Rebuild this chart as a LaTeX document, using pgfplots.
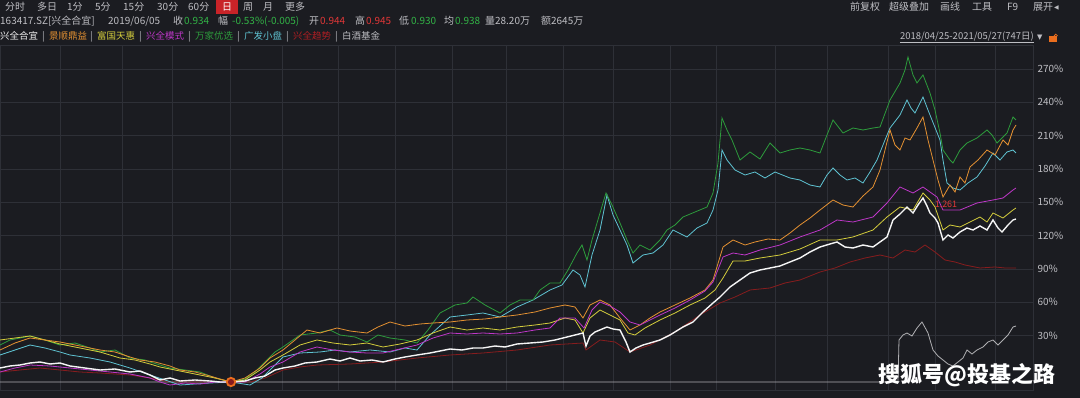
\documentclass[border=0pt]{standalone}
\usepackage{fontspec}
\setmainfont{Noto Sans CJK SC}
\newfontfamily\dejavu{DejaVu Sans}
\usepackage{pgfplots}
\pgfplotsset{compat=1.18}
\definecolor{bgc}{RGB}{27,28,33}
\definecolor{gridc}{RGB}{46,48,55}
\definecolor{labelc}{RGB}{190,190,195}
\definecolor{greenT}{RGB}{50,180,70}
\definecolor{redT}{RGB}{225,55,55}
\definecolor{redbox}{RGB}{200,35,40}
\definecolor{cW}{RGB}{245,245,245}
\definecolor{cO}{RGB}{228,145,50}
\definecolor{cY}{RGB}{212,205,60}
\definecolor{cM}{RGB}{190,55,200}
\definecolor{cG}{RGB}{45,155,60}
\definecolor{cC}{RGB}{95,195,210}
\definecolor{cR}{RGB}{135,28,30}
\definecolor{cRT}{RGB}{175,30,35}
\definecolor{cGr}{RGB}{175,175,178}
\definecolor{ringO}{RGB}{235,110,30}
\newcommand\fs{\fontsize{10}{12}\selectfont}
\newcommand\fl{\fontsize{9.5}{12}\selectfont}
\newcommand\tx[4][labelc]{\node[anchor=base west,inner sep=0pt,text=#1,font=\fs] at (#2bp,#3bp) {#4};}
\newcommand\tl[4][labelc]{\node[anchor=base west,inner sep=0pt,text=#1,font=\fl] at (#2bp,#3bp) {#4};}
\begin{document}
\begin{tikzpicture}
\fill[bgc] (0,0) rectangle (1080bp,398bp);
% toolbar
\tx{5}{387}{分时} \tx{37}{387}{多日} \tx{67}{387}{1分} \tx{95}{387}{5分} \tx{123}{387}{15分} \tx{157}{387}{30分} \tx{188}{387}{60分}
\fill[redbox] (216bp,384bp) rectangle (238bp,398bp);
\tx[white]{222}{387}{日}
\tx{243}{387}{周} \tx{263}{387}{月} \tx{285}{387}{更多}
\tx{850}{387}{前复权} \tx{889}{387}{超级叠加} \tx{940}{387}{画线} \tx{972}{387}{工具} \tx{1007}{387}{F9} \tx{1033}{387}{展开}
\node[anchor=base west,inner sep=0pt,text=labelc,font=\fontsize{6}{7}\selectfont\dejavu] at (1054bp,388bp) {◀};
% info row
\tx{0}{373}{163417.SZ[兴全合宜]} \tx{108}{373}{2019/06/05}
\tx{173}{373}{收} \tx[greenT]{184}{373}{0.934}
\tx{218}{373}{幅} \tx[greenT]{232}{373}{-0.53\%(-0.005)}
\tx{309}{373}{开} \tx[redT]{320}{373}{0.944}
\tx{355}{373}{高} \tx[redT]{366}{373}{0.945}
\tx{399}{373}{低} \tx[greenT]{411}{373}{0.930}
\tx{444}{373}{均} \tx[greenT]{455}{373}{0.938}
\tx{485}{373}{量28.20万} \tx{541}{373}{额2645万}
% legend row
\tl[cW]{0}{358}{兴全合宜} \tl{42}{358}{|}
\tl[cO]{49}{358}{景顺鼎益} \tl{90}{358}{|}
\tl[cY]{97}{358}{富国天惠} \tl{139}{358}{|}
\tl[cM]{146}{358}{兴全模式} \tl{188}{358}{|}
\tl[cG]{195}{358}{万家优选} \tl{237}{358}{|}
\tl[cC]{244}{358}{广发小盘} \tl{286}{358}{|}
\tl[cRT]{293}{358}{兴全趋势} \tl{335}{358}{|}
\tl[labelc]{342}{358}{白酒基金}
\node[anchor=base east,inner sep=0pt,text=labelc,font=\fontsize{9.5}{11}\selectfont] (dr) at (1034bp,358bp) {2018/04/25-2021/05/27(747日)};
\draw[labelc,line width=0.5pt] ([yshift=-1.8bp]dr.base west) -- ([yshift=-1.8bp]dr.base east);
\node[anchor=base west,inner sep=0pt,text=labelc,font=\fontsize{7}{8}\selectfont\dejavu] at (1037bp,358bp) {▼};
\fill[ringO] (1049bp,356bp) rectangle (1057bp,362bp);
\draw[ringO,line width=0.8pt] (1054bp,362bp) arc (180:0:1.8bp);
\begin{axis}[
  at={(0bp,8bp)}, anchor=south west,
  width=1033bp, height=345bp, scale only axis,
  xmin=0, xmax=1033, ymin=-18.9, ymax=291.6,
  axis line style={draw=gridc},
  xtick={60,122,172,230,282,338,395,452,506,563,613,670,716,775,827,888,935,995},
  xticklabels={},
  ytick={30,60,90,120,150,180,210,240,270},
  yticklabel pos=right,
  yticklabel={\pgfmathprintnumber{\tick}\%},
  /pgf/number format/assume math mode=true,
  yticklabel style={font=\fontsize{10}{12}\selectfont, text=labelc, xshift=1bp},
  major tick length=0pt,
  grid=major, grid style={gridc, line width=0.6pt},
  clip=true,
]
% 白酒基金
\addplot[cGr, line width=0.8pt] coordinates {(0,-11.7)(898,-11.7)(899,26.1)(903,30.6)(907,32.4)(912,29.7)(917,36.9)(922,42.3)(928,32.4)(933,17.1)(938,11.7)(943,8.1)(948,4.5)(953,2.7)(958,6.3)(963,9.9)(967,17.1)(972,13.5)(977,17.1)(983,19.8)(988,24.3)(993,26.1)(998,21.6)(1003,26.1)(1008,30.6)(1013,37.8)(1016,38.7)};
% 兴全趋势
\addplot[cR, line width=0.8pt] coordinates {(0,-2.7)(20,-0.9)(40,0.9)(60,-0.9)(80,-2.7)(100,-3.6)(130,-5.4)(150,-8.1)(170,-11.7)(200,-11.7)(231,-11.7)(250,-11.7)(265,-8.1)(283,-0.9)(300,1.8)(317,3.6)(350,4.5)(383,6.3)(417,9.9)(450,12.6)(483,14.4)(517,17.1)(550,21.6)(583,23.4)(586,17.1)(600,26.1)(615,24.3)(630,15.3)(650,21.6)(675,33.3)(700,48.6)(720,59.4)(735,64.8)(750,71.1)(770,72.9)(785,77.4)(800,80.1)(820,87.3)(835,90.9)(850,96.3)(865,99.9)(880,102.6)(893,99.9)(905,107.1)(915,105.3)(925,111.6)(935,105.3)(945,98.1)(955,96.3)(965,93.6)(980,90.9)(995,91.8)(1005,90.9)(1016,90.9)};
% 广发小盘
\addplot[cC, line width=0.8pt] coordinates {(0,12.6)(15,17.1)(30,21.6)(45,18.9)(60,15.3)(70,12.6)(90,9.9)(110,6.3)(130,0.9)(150,-5.4)(165,-9.9)(180,-14.4)(195,-13.5)(210,-12.6)(231,-11.7)(250,-14.4)(262,-8.1)(272,0.9)(283,10.8)(300,14.4)(320,15.3)(335,17.1)(350,15.3)(370,17.1)(390,15.3)(405,18.9)(417,17.1)(430,30.6)(450,46.8)(467,48.6)(483,50.4)(500,46.8)(517,55.8)(533,62.1)(550,71.1)(562,75.6)(573,89.1)(580,84.6)(585,73.8)(592,102.6)(600,125.1)(607,156.6)(613,138.6)(620,125.1)(627,111.6)(633,95.4)(643,102.6)(653,104.4)(663,111.6)(673,125.1)(687,118.8)(697,126.9)(707,131.4)(713,143.1)(718,161.1)(722,197.1)(727,188.1)(735,179.1)(745,174.6)(755,177.3)(765,171.9)(775,177.3)(790,171.9)(800,170.1)(810,165.6)(820,163.8)(827,174.6)(833,180.9)(840,174.6)(847,170.1)(855,171.9)(863,167.4)(870,177.3)(877,188.1)(885,206.1)(890,216.9)(900,228.6)(907,242.1)(911,234.9)(915,230.4)(920,239.4)(923,244.8)(928,233.1)(932,224.1)(936,215.1)(940,206.1)(943,188.1)(947,167.4)(953,162.9)(960,161.1)(968,167.4)(977,172.8)(985,182.7)(993,194.4)(1000,188.1)(1007,195.3)(1013,197.1)(1016,194.4)};
% 万家优选
\addplot[cG, line width=0.8pt] coordinates {(0,21.6)(10,26.1)(20,27.9)(30,29.7)(45,26.1)(60,21.6)(75,23.4)(90,18.9)(100,15.3)(115,17.1)(130,9.9)(145,8.1)(150,6.3)(160,3.6)(170,0.9)(185,-0.9)(200,-2.7)(215,-8.1)(231,-11.7)(245,-9)(255,-2.7)(265,6.3)(275,15.3)(283,19.8)(300,30.6)(317,32.4)(330,35.1)(340,30.6)(355,28.8)(367,24.3)(378,30.6)(390,27.9)(405,26.1)(417,23.4)(428,35.1)(440,50.4)(455,57.6)(467,59.4)(473,64.8)(485,57.6)(500,50.4)(510,57.6)(520,62.1)(533,62.1)(540,71.1)(550,77.4)(560,77.4)(568,89.1)(577,104.4)(582,111.6)(587,98.1)(592,116.1)(600,140.4)(606,158.4)(612,147.6)(620,131.4)(627,116.1)(633,104.4)(640,111.6)(650,107.1)(660,116.1)(667,125.1)(675,129.6)(683,136.8)(695,141.3)(707,145.8)(713,158.4)(718,185.4)(722,225.9)(727,215.1)(732,206.1)(740,188.1)(750,195.3)(760,189)(770,203.4)(780,194.4)(790,197.1)(800,198.9)(810,197.1)(820,194.4)(827,210.6)(833,224.1)(843,212.4)(853,216.9)(863,215.1)(873,216.9)(880,217.8)(890,242.1)(900,257.4)(905,269.1)(908,280.8)(913,264.6)(917,257.4)(923,264.6)(930,248.4)(935,233.1)(940,212.4)(943,197.1)(950,188.1)(953,185.4)(960,197.1)(967,203.4)(977,207.9)(987,215.1)(992,210.6)(997,203.4)(1007,212.4)(1013,226.8)(1016,224.1)};
% 富国天惠
\addplot[cY, line width=0.8pt] coordinates {(0,26.1)(15,27.9)(30,29.7)(45,26.1)(60,22.5)(80,18.9)(100,15.3)(120,9.9)(135,8.1)(150,4.5)(160,1.8)(175,-0.9)(190,-3.6)(200,-5.4)(215,-8.1)(231,-11.7)(245,-9.9)(260,-0.9)(270,6.3)(283,12.6)(300,21.6)(317,26.1)(333,23.4)(350,21.6)(367,23.4)(383,19.8)(400,22.5)(417,26.1)(433,32.4)(450,37.8)(467,35.1)(483,36.9)(500,35.1)(517,37.8)(535,39.6)(550,41.4)(565,45.9)(575,44.1)(583,32.4)(590,45.9)(600,53.1)(610,48.6)(620,44.1)(628,32.4)(635,30.6)(645,36.9)(660,44.1)(675,50.4)(690,57.6)(705,63.9)(715,71.1)(723,81.9)(733,97.2)(745,97.2)(760,99.9)(780,102.6)(800,108)(820,116.1)(837,116.1)(853,118.8)(873,125.1)(887,136.8)(900,145.8)(913,143.1)(923,158.4)(930,152.1)(935,145.8)(943,125.1)(950,129.6)(960,127.8)(970,132.3)(980,136.8)(987,132.3)(993,140.4)(1003,135.9)(1013,143.1)(1016,144.9)};
% 景顺鼎益
\addplot[cO, line width=0.8pt] coordinates {(0,17.1)(15,23.4)(30,27.9)(45,26.1)(60,24.3)(75,21.6)(90,18.9)(100,17.1)(115,15.3)(130,10.8)(140,8.1)(155,6.3)(170,2.7)(180,-0.9)(195,-2.7)(210,-6.3)(220,-9)(231,-11.7)(245,-8.1)(260,0.9)(270,9.9)(283,17.1)(295,26.1)(307,35.1)(320,32.4)(337,36.9)(350,34.2)(367,32.4)(378,37.8)(390,42.3)(405,38.7)(420,40.5)(433,41.4)(450,42.3)(467,44.1)(485,45)(500,46.8)(517,48.6)(535,51.3)(550,54.9)(565,57.6)(575,55.8)(583,45.9)(590,57.6)(600,62.1)(610,57.6)(620,45.9)(630,35.1)(640,39.6)(650,45.9)(660,51.3)(675,57.6)(690,63.9)(705,71.1)(713,80.1)(723,109.8)(733,116.1)(745,111.6)(755,114.3)(768,117)(780,116.1)(790,122.4)(800,129.6)(810,135.9)(820,143.1)(833,152.1)(843,147.6)(853,145.8)(863,155.7)(873,163.8)(880,179.1)(890,215.1)(895,201.6)(900,197.1)(905,207.9)(910,206.1)(917,216.9)(923,226.8)(928,206.1)(933,188.1)(938,170.1)(943,154.8)(950,165.6)(955,159.3)(960,172.8)(965,167.4)(970,181.8)(978,188.1)(987,197.1)(995,192.6)(1003,206.1)(1008,201.6)(1013,215.1)(1016,219.6)};
% 兴全模式
\addplot[cM, line width=0.8pt] coordinates {(0,-2.7)(15,0.9)(30,3.6)(50,2.7)(70,0.9)(90,-0.9)(110,-2.7)(130,-4.5)(150,-8.1)(160,-11.7)(170,-14.4)(185,-12.6)(200,-13.5)(215,-11.7)(231,-11.7)(245,-11.7)(260,-4.5)(270,1.8)(283,6.3)(300,15.3)(317,19.8)(333,17.1)(350,15.3)(367,14.4)(383,14.4)(400,18)(417,21.6)(433,27.9)(450,32.4)(467,31.5)(483,32.4)(500,31.5)(517,32.4)(535,35.1)(550,36.9)(560,45.9)(575,45.9)(584,36.9)(592,53.1)(600,60.3)(610,56.7)(620,51.3)(630,42.3)(640,39.6)(650,44.1)(660,48.6)(675,54.9)(690,62.1)(705,70.2)(713,78.3)(723,100.8)(733,104.4)(745,102.6)(760,107.1)(780,111.6)(800,118.8)(820,125.1)(837,134.1)(853,132.3)(873,136.8)(887,149.4)(900,163.8)(913,158.4)(923,163.8)(930,159.3)(937,154.8)(943,143.1)(960,143.1)(977,149.4)(993,152.1)(1003,153.9)(1013,161.1)(1016,162.9)};
% 兴全合宜
\addplot[cW, line width=1.4pt] coordinates {(0,0.9)(10,2.7)(20,3.6)(30,5.4)(40,6.3)(50,4.5)(60,5.4)(70,2.7)(85,0.9)(100,-0.9)(115,0)(130,-2.7)(140,-1.8)(150,-5.4)(160,-9.9)(170,-8.1)(180,-10.8)(195,-9.9)(210,-10.8)(220,-11.7)(231,-11.7)(245,-10.8)(255,-8.1)(265,-6.3)(275,-0.9)(283,0.9)(295,2.7)(305,5.4)(317,6.3)(330,9)(340,7.2)(350,9.9)(360,7.2)(372,8.1)(383,6.3)(395,9)(405,10.8)(417,12.6)(430,14.4)(440,16.2)(450,18)(462,17.1)(473,18.9)(483,18.9)(495,20.7)(505,19.8)(517,22.5)(530,23.4)(543,24.3)(555,26.1)(567,28.8)(575,30.6)(583,32.4)(586,20.7)(590,29.7)(595,33.3)(607,37.8)(613,36)(620,35.1)(626,24.3)(630,15.3)(636,18.9)(643,21.6)(650,23.4)(660,26.1)(670,30.6)(683,37.8)(693,42.3)(703,51.3)(713,59.4)(720,64.8)(730,73.8)(740,80.1)(750,86.4)(760,89.1)(770,90.9)(780,92.7)(790,96.3)(800,99.9)(810,105.3)(820,109.8)(830,112.5)(837,114.3)(845,109.8)(853,108.9)(863,111.6)(873,109.8)(880,114.3)(887,118.8)(893,134.1)(900,139.5)(907,145.8)(913,140.4)(918,147.6)(923,153.9)(927,146.7)(930,140.4)(935,135.9)(938,131.4)(943,116.1)(948,120.6)(953,117.9)(960,123.3)(967,126.9)(973,125.1)(980,128.7)(987,125.1)(993,134.1)(998,126.9)(1002,123.3)(1008,129.6)(1013,134.1)(1016,135)};
% base point marker
\addplot[only marks, mark=*, mark size=4.2pt, mark options={fill=cR, draw=ringO, line width=1.8pt}] coordinates {(231,-11.7)};
\node[text=redT, font=\fontsize{9}{10}\selectfont, inner sep=0pt] at (axis cs:946,148) {1.261};
\end{axis}
\node[text=white, font=\fontsize{22}{24}\selectfont\bfseries, inner sep=0pt] at (967bp,23bp) {搜狐号@投基之路};
\pgfresetboundingbox
\path[use as bounding box] (0,0) rectangle (1080bp,398bp);
\end{tikzpicture}
\end{document}
